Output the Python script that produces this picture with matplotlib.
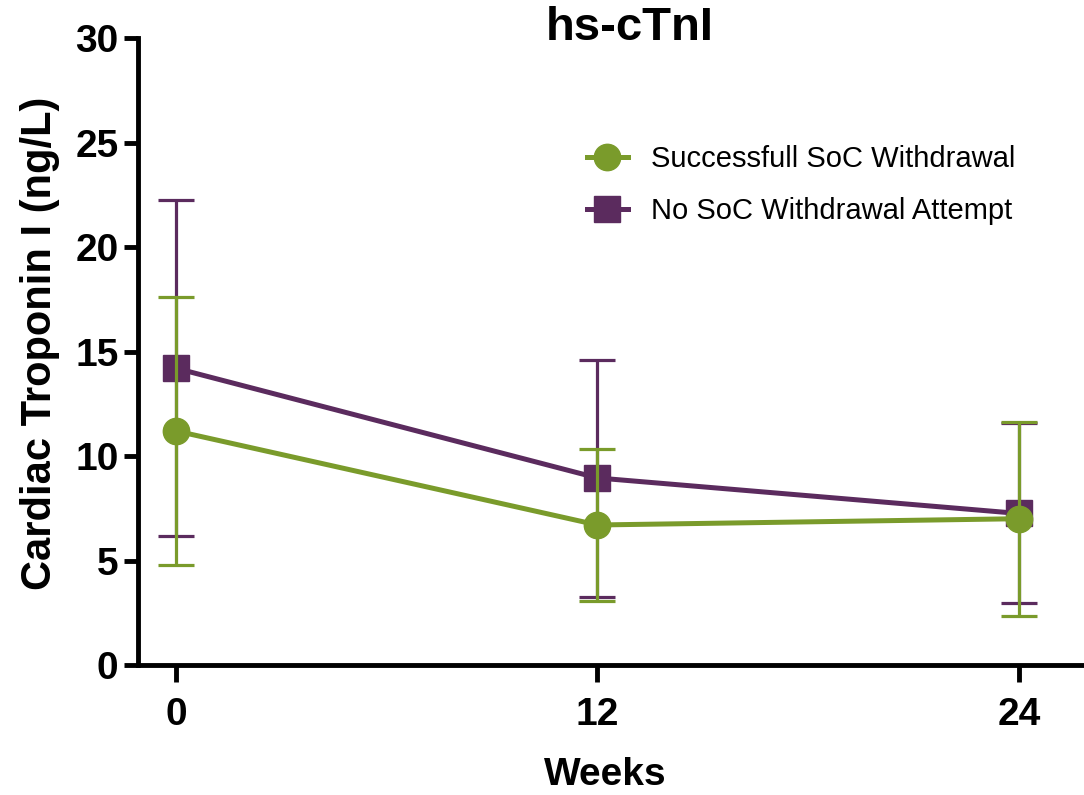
import matplotlib.pyplot as plt
from matplotlib.lines import Line2D
import numpy as np

plt.rcParams['font.family'] = ['Liberation Sans', 'DejaVu Sans']

weeks = [0, 12, 24]
week_ticks = [0, 12, 24]
y_ticks = [0, 5, 10, 15, 20, 25, 30]

succ_label = 'Successfull SoC Withdrawal'
succ_mean = np.array([11.2, 6.7, 7.0])
succ_lo = np.array([4.8, 3.05, 2.35])
succ_hi = np.array([17.6, 10.35, 11.65])

none_label = 'No SoC Withdrawal Attempt'
none_mean = np.array([14.2, 8.95, 7.25])
none_lo = np.array([6.15, 3.25, 2.95])
none_hi = np.array([22.25, 14.6, 11.6])

green = '#7a9b2b'
purple = '#5b2b5e'

fig = plt.figure(figsize=(10.84, 7.95), dpi=100)
ax = fig.add_axes([0.1273, 0.1635, 0.8727, 0.7887])

# purple first so green sits on top
ax.errorbar(weeks, none_mean, yerr=[none_mean - none_lo, none_hi - none_mean],
            color=purple, lw=3.6, marker='s', ms=19, elinewidth=2.3,
            capsize=13, capthick=2.3, zorder=2)
ax.errorbar(weeks, succ_mean, yerr=[succ_mean - succ_lo, succ_hi - succ_mean],
            color=green, lw=3.6, marker='o', ms=19, elinewidth=2.3,
            capsize=13, capthick=2.3, zorder=3)

ax.set_xlim(-1.08, 25.85)
ax.set_ylim(0, 30)
ax.set_xticks(week_ticks)
ax.set_yticks(y_ticks)

for s in ['top', 'right']:
    ax.spines[s].set_visible(False)
for s in ['left', 'bottom']:
    ax.spines[s].set_linewidth(3.5)
ax.tick_params(width=3.5, labelsize=28)
ax.tick_params(axis='x', length=12, pad=11)
ax.tick_params(axis='y', length=10, pad=4)
for lab in ax.get_xticklabels() + ax.get_yticklabels():
    lab.set_fontweight('bold')

ax.set_xlabel('Weeks', fontsize=28, fontweight='bold')
ax.xaxis.set_label_coords(0.494, -0.146)
ax.set_ylabel('Cardiac Troponin I (ng/L)', fontsize=30, fontweight='bold')
ax.yaxis.set_label_coords(-0.082, 0.513)
fig.text(0.581, 0.965, 'hs-cTnI', fontsize=34, fontweight='bold',
         ha='center', va='center')

handles = [Line2D([], [], color=green, lw=3.6, marker='o', ms=19),
           Line2D([], [], color=purple, lw=3.6, marker='s', ms=19)]
ax.legend(handles, [succ_label, none_label], loc='upper left', bbox_to_anchor=(0.5415, 0.817),
          bbox_transform=fig.transFigure, frameon=False, fontsize=21,
          handlelength=1.4, handletextpad=0.8, labelspacing=0.82,
          borderpad=0, borderaxespad=0)

fig.savefig('out.png', dpi=100)
